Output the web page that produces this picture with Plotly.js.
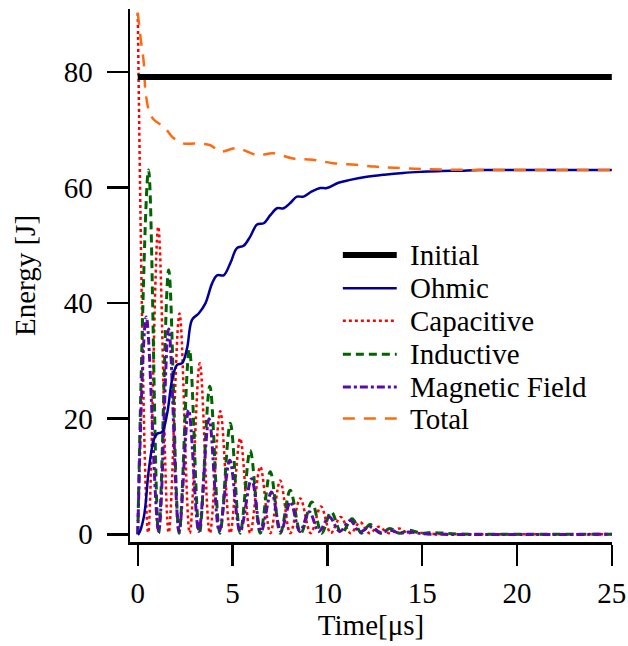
<!DOCTYPE html>
<html>
<head>
<meta charset="utf-8">
<script src="https://cdn.plot.ly/plotly-3.0.1.min.js"></script>
<style>html,body{margin:0;padding:0;background:#fff;overflow:hidden;}#chart{width:628px;height:646px;}</style>
</head>
<body>
<div id="chart"></div>
<script>
// ---- data ----
const initialT = [0, 25];
const initialE = [79.1, 79.1];

const ohmicT = [0, 0.05, 0.32, 0.58, 0.84, 1.02, 1.28, 1.55, 1.81, 2.07, 2.34, 2.6, 2.86, 3.21, 3.56, 3.92, 4.18, 4.53, 4.88, 5.23, 5.58, 5.93, 6.29, 6.64, 6.99, 7.34, 7.69, 8.04, 8.39, 8.74, 9.18, 9.62, 9.97, 10.58, 11.2, 12, 13, 14, 15, 16, 17, 18, 20, 25];
const ohmicE = [0, 0.1, 3.0, 11.1, 16.3, 17.4, 17.7, 20.9, 26.7, 29.3, 29.6, 32.2, 37.1, 38.2, 39.9, 43.4, 44.8, 44.8, 46.9, 49.5, 49.9, 51.5, 53.6, 53.8, 55.2, 56.4, 56.4, 57.3, 58.4, 58.4, 59.3, 59.9, 59.9, 60.8, 61.3, 61.8, 62.2, 62.5, 62.7, 62.85, 62.9, 63.0, 63.0, 63.0];

const capT = [0, 0.55, 1.08, 1.63, 2.2, 2.74, 3.27, 3.8, 4.35, 4.88, 5.4, 5.93, 6.46, 6.99, 7.51, 8.04, 8.57, 9.12, 9.66, 10.18, 10.7, 11.22, 11.73, 12.22, 12.7, 13.25, 13.8, 14.25, 14.7, 15.2, 16, 18, 20, 25];
const capE = [90.2, 0.3, 53.2, 0.3, 38.2, 0.2, 29.6, 0.2, 21.3, 0.2, 16.6, 0.2, 11.7, 0.2, 9.3, 0.2, 6.2, 0.2, 4.8, 0.2, 3.0, 0.2, 2.1, 0.2, 1.3, 0.2, 1.0, 0.2, 0.4, 0.1, 0.05, 0, 0, 0];

const indT = [0, 0.57, 1.1, 1.63, 2.18, 2.72, 3.25, 3.8, 4.33, 4.88, 5.4, 5.93, 6.46, 6.99, 7.52, 8.04, 8.6, 9.18, 9.7, 10.2, 10.75, 11.3, 11.8, 12.25, 12.8, 13.3, 13.8, 14.35, 14.9, 15.5, 17, 20, 25];
const indE = [0, 63.0, 0.2, 45.7, 0.2, 32.0, 0.2, 25.6, 0.2, 19.2, 0.2, 14.5, 0.2, 10.8, 0.2, 7.6, 0.2, 5.6, 0.2, 3.9, 0.2, 2.7, 0.2, 1.7, 0.2, 1.0, 0.2, 0.7, 0.2, 0.3, 0.05, 0, 0];

const magT = [0, 0.45, 1.1, 1.63, 2.18, 2.68, 3.22, 3.76, 4.3, 4.85, 5.4, 6.0, 6.5, 7.05, 7.55, 8.05, 8.55, 9.05, 9.55, 10.1, 10.65, 11.2, 11.7, 12.25, 12.8, 13.3, 13.8, 14.3, 15, 16, 25];
const magE = [0, 37.6, 0.5, 35.5, 0.5, 21.5, 0.5, 20.0, 0.5, 12.8, 0.5, 9.6, 0.5, 7.3, 0.5, 5.6, 0.5, 3.9, 0.5, 3.0, 0.5, 2.4, 0.4, 1.3, 0.3, 0.7, 0.2, 0.4, 0.1, 0, 0];

const totT = [0, 0.18, 0.32, 0.4, 0.58, 0.85, 1.37, 1.9, 2.42, 3.04, 3.83, 4.35, 5.23, 6.29, 7.16, 8.2, 9.2, 10.3, 11.5, 12.5, 13.5, 15, 17, 20, 25];
const totE = [90.2, 85.0, 81.5, 76.9, 73.4, 71.7, 70.5, 68.5, 67.6, 67.6, 67.3, 66.2, 66.8, 65.6, 65.9, 65.0, 64.8, 64.2, 63.9, 63.6, 63.4, 63.2, 63.05, 63.0, 63.0];

const seriesNames = ['Initial', 'Ohmic', 'Capacitive', 'Inductive', 'Magnetic Field', 'Total'];
const xTickVals = [0, 5, 10, 15, 20, 25];
const yTickVals = [0, 20, 40, 60, 80];

// ---- styles ----
const FONT = 'Liberation Serif';
const styles = [
  {color: '#000000', width: 6, dash: 'solid', shape: 'linear'},
  {color: '#000099', width: 2.5, dash: 'solid', shape: 'spline'},
  {color: '#FF0000', width: 2.5, dash: '3px,3px', shape: 'spline'},
  {color: '#006400', width: 3, dash: '8px,5px', shape: 'spline'},
  {color: '#5A0AAA', width: 3, dash: '8px,3px,3px,3px', shape: 'spline'},
  {color: '#FF6A10', width: 2.5, dash: '12px,9px', shape: 'spline'}
];
const xs = [initialT, ohmicT, capT, indT, magT, totT];
const ys = [initialE, ohmicE, capE, indE, magE, totE];
const order = [2, 3, 4, 1, 5, 0];

const traces = order.map(i => ({
  x: xs[i], y: ys[i], name: seriesNames[i], type: 'scatter', mode: 'lines',
  line: {color: styles[i].color, width: styles[i].width, dash: styles[i].dash, shape: styles[i].shape, smoothing: 1},
  showlegend: false, hoverinfo: 'skip'
}));

// manual legend (positions in paper coords)
const legX0 = 0.4416, legX1 = 0.5534, legTx = 0.5768;
const legY = [0.5383, 0.4762, 0.4149, 0.3524, 0.2910, 0.2315];
const shapes = [], annotations = [];
seriesNames.forEach((n, i) => {
  shapes.push({type: 'line', xref: 'paper', yref: 'paper', x0: legX0, x1: legX1, y0: legY[i], y1: legY[i],
    line: {color: styles[i].color, width: styles[i].width, dash: styles[i].dash}});
  annotations.push({xref: 'paper', yref: 'paper', x: legTx, y: legY[i], xanchor: 'left', yanchor: 'middle',
    text: n, showarrow: false, font: {family: FONT, size: 29, color: '#000'}});
});

const tf = () => ({family: FONT, size: 29, color: '#000'});
const layout = {
  width: 628, height: 646,
  margin: {l: 130, r: 16, t: 9, b: 104, pad: 0},
  paper_bgcolor: '#fff', plot_bgcolor: '#fff',
  font: tf(),
  showlegend: false,
  xaxis: {
    range: [-0.41, 25.01], tickvals: xTickVals, ticktext: xTickVals.map(String),
    showgrid: false, zeroline: false, showline: true, linecolor: '#000', linewidth: 2.5,
    ticks: 'outside', ticklen: 21, tickwidth: 2.5, tickcolor: '#000', ticklabelstandoff: 3,
    tickfont: tf(),
    title: {text: 'Time[μs]', font: tf(), standoff: 6}
  },
  yaxis: {
    range: [-1.33, 90.86], tickvals: yTickVals, ticktext: yTickVals.map(String),
    showgrid: false, zeroline: false, showline: true, linecolor: '#000', linewidth: 2.5,
    ticks: 'outside', ticklen: 21, tickwidth: 2.5, tickcolor: '#000', ticklabelstandoff: 8,
    tickfont: tf(),
    title: {text: 'Energy [J]', font: tf(), standoff: 20}
  },
  shapes: shapes, annotations: annotations
};

Plotly.newPlot('chart', traces, layout, {staticPlot: true});
</script>
</body>
</html>
